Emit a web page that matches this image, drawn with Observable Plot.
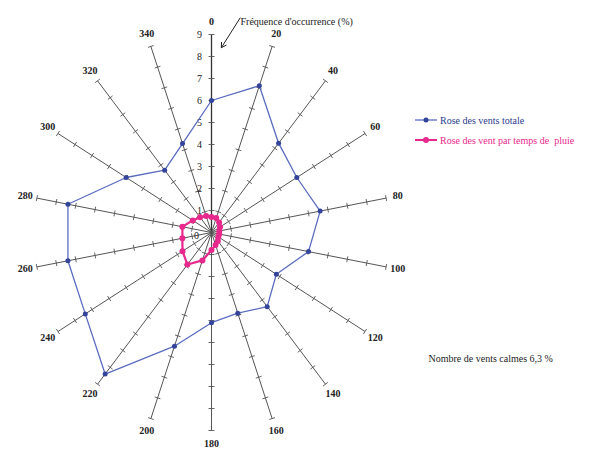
<!DOCTYPE html>
<html>
<head>
<meta charset="utf-8">
<script src="https://cdn.jsdelivr.net/npm/d3@7"></script>
<script src="https://cdn.jsdelivr.net/npm/@observablehq/plot@0.6"></script>
<style>
  html, body { margin: 0; padding: 0; background: #ffffff; }
  #wrap { position: relative; width: 614px; height: 452px; font-family: "Liberation Serif", "DejaVu Serif", serif; }
  .leg { position: absolute; display: flex; align-items: center; font-size: 10px; white-space: pre; }
  .leg svg { margin-right: 3px; }
</style>
</head>
<body>
<div id="wrap">
  <div id="chart"></div>
</div>
<script>
// ---- data ----
const directions = [0, 20, 40, 60, 80, 100, 120, 140, 160, 180, 200, 220, 240, 260, 280, 300, 320, 340];
const roseTotale = [6.0, 7.1, 5.3, 5.0, 5.6, 5.0, 3.8, 4.4, 3.9, 4.1, 5.5, 8.4, 7.4, 7.4, 7.4, 5.0, 3.7, 4.3];
const rosePluie = [0.7, 0.7, 0.6, 0.5, 0.4, 0.4, 0.4, 0.5, 0.6, 0.8, 1.35, 1.9, 1.7, 1.5, 1.5, 1.1, 0.9, 0.8];
const radialTicks = [1, 2, 3, 4, 5, 6, 7, 8, 9];
const radialMax = 9;
const seriesNames = ["Rose des vents totale", "Rose des vent par temps de  pluie"];
const axisTitle = "Fréquence d'occurrence (%)";
const calmNote = "Nombre de vents calmes 6,3 %";

// ---- layout ----
const cx = 211, cy = 232, kx = 19.7, ky = 22;
const rad = d => d * Math.PI / 180;
const polar = (deg, r) => ({x: r * Math.sin(rad(deg)), y: r * Math.cos(rad(deg))});

const seriesData = (vals, name) => directions.map((d, i) => ({dir: d, v: vals[i], name, ...polar(d, vals[i])}));
const totData = seriesData(roseTotale, seriesNames[0]);
const pluieData = seriesData(rosePluie, seriesNames[1]);

const spokes = directions.map(d => ({dir: d, x1: 0, y1: 0, x2: polar(d, radialMax).x, y2: polar(d, radialMax).y}));

const halfTick = 3;
const tickSegs = [];
for (const d of directions) {
  const t = rad(d);
  const px = ky * Math.cos(t), py = kx * Math.sin(t);
  const n = Math.hypot(px, py);
  const ox = halfTick * (px / n) / kx, oy = -halfTick * (py / n) / ky;
  for (const r of radialTicks) {
    const c = polar(d, r);
    tickSegs.push({x1: c.x - ox, y1: c.y - oy, x2: c.x + ox, y2: c.y + oy});
  }
}

const dirLabels = directions.map(d => ({label: String(d), ...polar(d, 9.6)}));

const serif = "Liberation Serif, DejaVu Serif, serif";
const blueLine = "#5b6cc0", blueDot = "#34449a", pink = "#e8288c";

const chart = Plot.plot({
  width: 614,
  height: 452,
  margin: 0,
  style: {background: "transparent", fontFamily: serif},
  x: {axis: null, domain: [-10, 10], range: [cx - 10 * kx, cx + 10 * kx]},
  y: {axis: null, domain: [-10, 10], range: [cy + 10 * ky, cy - 10 * ky]},
  marks: [
    Plot.link(spokes, {x1: "x1", y1: "y1", x2: "x2", y2: "y2", stroke: d => d.dir === 0 ? "#333" : "#555", strokeWidth: d => d.dir === 0 ? 1.3 : 1}),
    Plot.link(tickSegs, {x1: "x1", y1: "y1", x2: "x2", y2: "y2", stroke: "#555", strokeWidth: 0.9}),
    Plot.text(radialTicks, {x: 0, y: d => d, text: d => String(d), dx: -12, fontSize: 10, fill: "#222"}),
    Plot.text([0], {x: 0, y: 0, text: d => String(d), dx: -15, dy: 3, fontSize: 10, fill: "#222"}),
    Plot.text(dirLabels, {x: "x", y: "y", text: "label", fontSize: 10, fill: "#222", fontWeight: "bold"}),
    Plot.line(totData, {x: "x", y: "y", curve: "linear-closed", stroke: blueLine, strokeWidth: 1.3}),
    Plot.dot(totData, {x: "x", y: "y", r: 2.5, fill: blueDot, stroke: null}),
    Plot.line(pluieData, {x: "x", y: "y", curve: "linear-closed", stroke: pink, strokeWidth: 2.2}),
    Plot.dot(pluieData, {x: "x", y: "y", r: 3, fill: pink, stroke: null}),
    Plot.arrow([{x1: 1.45, y1: 9.75, x2: 0.5, y2: 8.4}], {x1: "x1", y1: "y1", x2: "x2", y2: "y2", stroke: "#222", strokeWidth: 1, headLength: 8}),
    Plot.text([axisTitle], {frameAnchor: "top-left", dx: 240, dy: 17, textAnchor: "start", fontSize: 10, fill: "#222"}),
    Plot.text([calmNote], {frameAnchor: "top-left", dx: 428, dy: 354, textAnchor: "start", fontSize: 10, fill: "#222"})
  ]
});
document.getElementById("chart").appendChild(chart);

// legend
const legendColors = [{line: blueLine, dot: blueDot, text: "#2a3a8c", top: 113}, {line: pink, dot: pink, text: pink, top: 133}];
seriesNames.forEach((name, i) => {
  const c = legendColors[i];
  const div = document.createElement("div");
  div.className = "leg";
  div.style.left = "415px";
  div.style.top = c.top + "px";
  div.style.color = c.text;
  div.innerHTML = `<svg width="22" height="14"><line x1="0" y1="7" x2="22" y2="7" stroke="${c.line}" stroke-width="${i ? 2 : 1.3}"/><circle cx="11" cy="7" r="${i ? 3 : 2.5}" fill="${c.dot}"/></svg>`;
  const span = document.createElement("span");
  span.textContent = name;
  div.appendChild(span);
  document.getElementById("wrap").appendChild(div);
});
</script>
</body>
</html>
